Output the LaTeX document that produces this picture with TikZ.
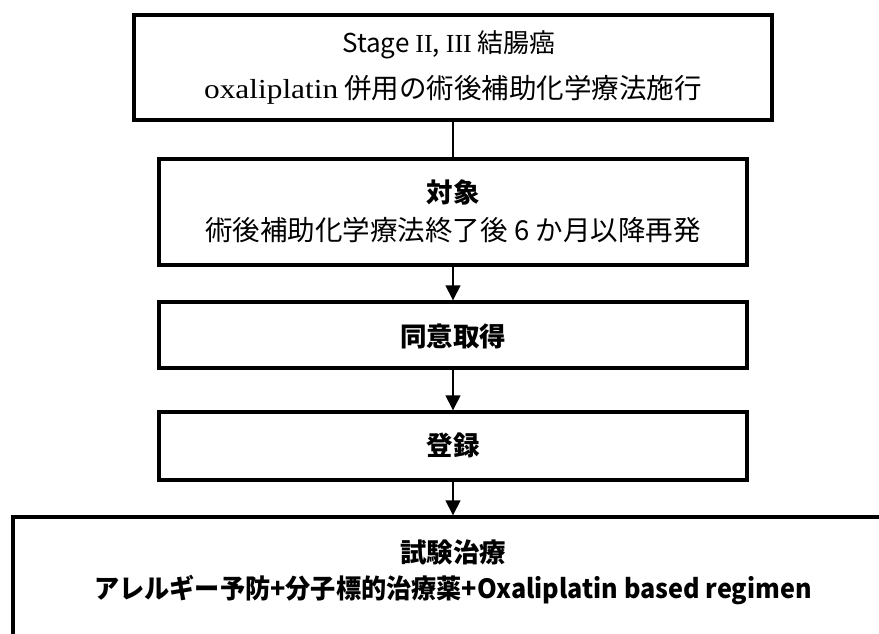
\documentclass[tikz,border=0pt]{standalone}
\usepackage{fontspec}
\setmainfont{Liberation Serif}
\newfontfamily\jp{Noto Sans CJK JP}
\usetikzlibrary{arrows.meta}
\begin{document}
\begin{tikzpicture}[x=1pt,y=-1pt,
  boxst/.style={draw, line width=3.4pt, inner sep=0pt},
  conn/.style={line width=1.4pt},
  arr/.style={conn, -{Triangle[length=15pt,width=15pt]}},
  txt/.style={inner sep=0pt, font=\fontsize{27.5}{32}\selectfont\jp},
  txtb/.style={txt, font=\fontsize{26.5}{30}\selectfont\jp\bfseries}]
\useasboundingbox (0,0) rectangle (879,633);
\clip (0,0) rectangle (879,633);
\node[boxst, minimum width=638pt, minimum height=105pt] (top) at (453,67.5) {};
\node[boxst, minimum width=588pt, minimum height=106pt] (taisho) at (453,212) {};
\node[boxst, minimum width=588pt, minimum height=66pt] (doi) at (453,335) {};
\node[boxst, minimum width=588pt, minimum height=68pt] (toroku) at (453,446) {};
\node[boxst, minimum width=892pt, minimum height=163pt] (shiken) at (459,598.5) {};
\node[txt, font=\fontsize{26}{30}\selectfont\jp] (t1) at (449,45) {Stage {\rmfamily II}, {\rmfamily III} 結腸癌};
\node[txt] (t2) at (453,90) {{\rmfamily\scalebox{1.14}[1]{oxaliplatin}} 併用の術後補助化学療法施行};
\node[txtb] (t3) at (453,192) {対象};
\node[txt] (t4) at (453,230) {術後補助化学療法終了後 6 か月以降再発};
\node[txtb] (t5) at (453,336) {同意取得};
\node[txtb] (t6) at (453,445) {登録};
\node[txtb] (t7) at (453,552) {試験治療};
\node[txtb] (t8) at (453,590) {\scalebox{0.95}[1]{アレルギー予防+分子標的治療薬+Oxaliplatin based regimen}};
\draw[conn] (top.south) -- (taisho.north);
\draw[arr] (taisho.south) -- (doi.north);
\draw[arr] (doi.south) -- (toroku.north);
\draw[arr] (toroku.south) -- (toroku.south |- shiken.north);
\end{tikzpicture}
\end{document}
